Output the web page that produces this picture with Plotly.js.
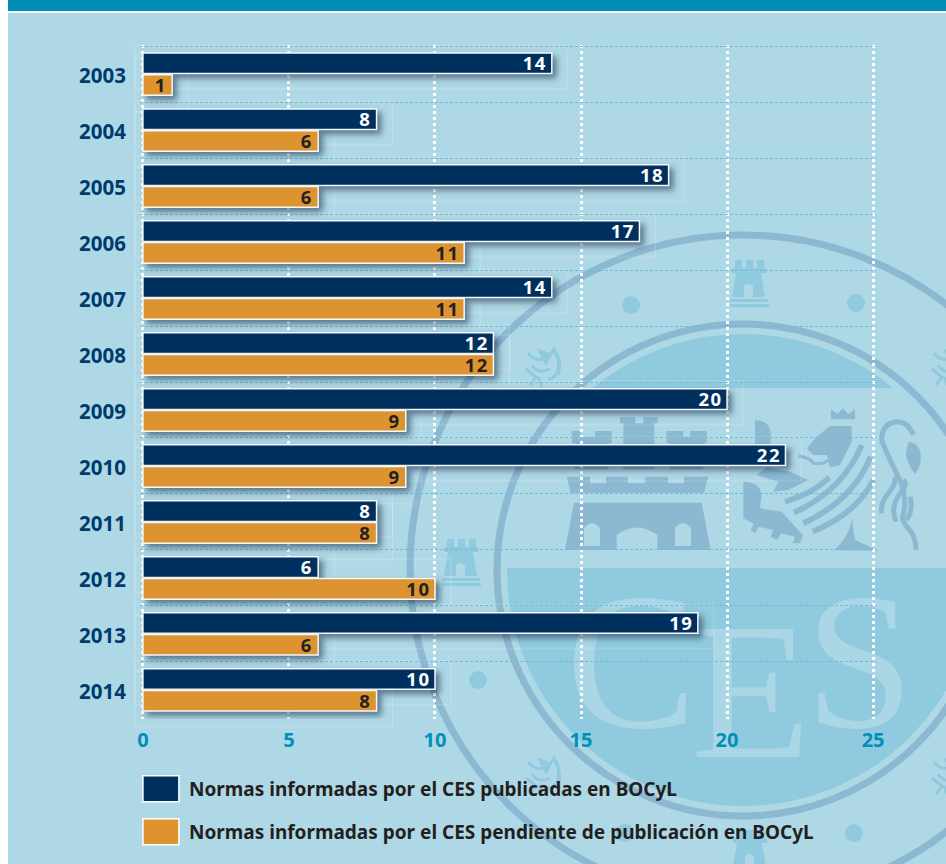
<!DOCTYPE html>
<html lang="es">
<head>
<meta charset="utf-8">
<script src="https://cdn.plot.ly/plotly-3.0.1.min.js"></script>
<style>
html,body{margin:0;padding:0;background:#fff;}
#stage{position:relative;width:946px;height:864px;overflow:hidden;}
#wm,#chart{position:absolute;left:0;top:0;width:946px;height:864px;}
.bars .point path{filter:drop-shadow(4px 4px 3px rgba(0,20,50,.5));}
.bars text{letter-spacing:1.5px;translate:-3px -.5px;}
.ytick text{translate:0 1.5px;}
</style>
</head>
<body>
<div id="stage">
<svg id="wm" width="946" height="864" viewBox="0 0 946 864" xmlns="http://www.w3.org/2000/svg">
  <defs>
    <clipPath id="inner"><circle cx="743" cy="570" r="236"/></clipPath>
    <g id="tinyCastle" fill="#90CADF">
      <rect x="5" y="0" width="7" height="8"/><rect x="16" y="0" width="7" height="8"/><rect x="27" y="0" width="7" height="8"/>
      <rect x="2" y="8" width="34" height="5"/>
      <path d="M6 13H31L35 37H2Z M14 37H23V26Q18.500 22 14 26Z" fill-rule="evenodd"/>
      <rect x="0" y="39" width="38" height="3"/><rect x="0" y="44" width="39" height="3"/>
    </g>
    <g id="tinyLion" fill="none" stroke="#90CADF" stroke-width="3">
      <path d="M6 8Q12 16 20 14T32 4Q38 14 36 24T26 34"/>
      <path d="M10 20Q16 30 28 24M4 24L14 32L8 40M16 32L20 42M34 8Q40 18 36 30"/>
      <path d="M18 6L28 10L24 18Z" fill="#90CADF"/>
    </g>
  </defs>
  <rect x="8" y="0" width="938" height="864" fill="#AFD8E6"/>
  <rect x="8" y="0" width="938" height="11" fill="#008EB5"/>
  <rect x="8" y="11" width="938" height="2" fill="#fff"/>

  <circle cx="743" cy="568" r="333" fill="none" stroke="#8CB8D2" stroke-width="7"/>
  <circle cx="743" cy="570" r="246" fill="none" stroke="#8CB8D2" stroke-width="7"/>
  <g clip-path="url(#inner)" fill="#90CADF">
    <rect x="480" y="320" width="466" height="68"/>
    <rect x="480" y="568" width="466" height="260"/>
  </g>
  <g fill="#90CADF">
    <circle cx="631" cy="305" r="9"/><circle cx="856" cy="303" r="9"/>
    <circle cx="478" cy="680" r="9"/><circle cx="854" cy="833" r="9"/><circle cx="625" cy="833" r="9"/>
  </g>
  <use href="#tinyCastle" x="730" y="260"/>
  <use href="#tinyCastle" x="442" y="539"/>
  <use href="#tinyCastle" x="731" y="830"/>
  <use href="#tinyLion" x="522" y="345"/>
  <use href="#tinyLion" x="928" y="345"/>
  <use href="#tinyLion" x="522" y="754"/>
  <use href="#tinyLion" x="928" y="754"/>

  <!-- shield drawn in crop coordinates -->
  <g transform="translate(480 380) scale(.33333)" fill="#8CB8D2">
    <path d="M260 290H330V310H378V290H443V310H495V290H565V310H612V290H685L672 338H272Z"/>
    <path d="M282 368H665L692 510H532V465Q471 420 410 465V510H255Z M312 498H360V445Q336 415 312 445Z M585 498H633V445Q609 415 585 445Z" fill-rule="evenodd"/>
    <path d="M276 153H302V170H345V153H395V190H385V268H285V190H276Z"/>
    <path d="M420 112H466V130H490V112H533V130H523V268H430V130H420Z"/>
    <path d="M560 153H610V170H630V153H680V190H670V268H570V190H560Z"/>
    <path d="M1053 118V88L1072 102L1088 85L1105 102L1125 88V118Z"/>
    <path d="M1050 138H1115V185L1080 255L1050 262L1040 225L1000 225L980 205L1010 170Z"/>
    <path d="M825 120Q870 122 872 160V195H825Z"/>
    <path d="M790 305Q840 305 845 345L840 385L905 395L968 465L960 490H938L945 470L905 460L890 480L872 470L880 450L835 440L825 460L812 450L822 432L790 415Z"/>
    <path d="M1062 510Q1110 470 1115 415L1125 480L1195 512Z"/>
    <path d="M830 285L860 262L930 275L985 300L925 330L880 335L895 305Z"/>
    <path d="M1285 185Q1320 190 1322 225T1305 282Q1280 250 1278 220Z"/>
    <path d="M955 228Q990 232 1000 250Q1030 255 1045 240" fill="none" stroke="#8CB8D2" stroke-width="9"/>
    <g fill="none" stroke="#8CB8D2" stroke-width="17">
      <path d="M915 365Q1000 340 1048 292"/>
      <path d="M942 398Q1090 330 1145 195"/>
      <path d="M970 430Q1120 360 1172 230"/>
      <path d="M998 455Q1130 400 1180 300"/>
      <path d="M1308 510Q1308 470 1285 445T1270 400Q1285 350 1250 280T1205 180Q1205 130 1250 125Q1285 125 1300 165" stroke-width="15"/>
      <path d="M1205 400Q1200 370 1225 340T1245 290" stroke-width="15"/>
      <path d="M1248 425Q1230 380 1258 345T1270 300" stroke-width="15"/>
      <path d="M1290 350Q1300 390 1280 420" stroke-width="15"/>
    </g>
  </g>

  <g font-family="'Liberation Serif',serif" font-size="196" fill="#AAD6E6">
    <text x="566" y="727">C</text>
    <text x="691" y="757">E</text>
    <text x="805" y="727">S</text>
  </g>
</svg>
<div id="chart"></div>
</div>
<script>
var years = ['2003','2004','2005','2006','2007','2008','2009','2010','2011','2012','2013','2014'];
var publicadas = [14,8,18,17,14,12,20,22,8,6,19,10];
var pendientes = [1,6,6,11,11,12,9,9,8,10,6,8];
var nombrePublicadas = 'Normas informadas por el CES publicadas en BOCyL';
var nombrePendientes = 'Normas informadas por el CES pendiente de publicación en BOCyL';
var xTicks = [0,5,10,15,20,25];

var azul = '#00315E', naranja = '#DD9430';
var FONT = "'Noto Sans','Open Sans',sans-serif";
var L = 140.08, T = 44.88, W = 736.3, H = 674.24, rowH = 56, top0 = 46, unit = 29.22;
function px(x){ return (x-L)/W; }
function py(y){ return 1-(y-T)/H; }

function frame(i, v, top, bottom) {
  var r = top0 + i*rowH;
  return {type:'rect', xref:'paper', yref:'paper', layer:'below',
    x0:px(135), x1:px(143+v*unit+16), y0:py(r+bottom), y1:py(r+top),
    line:{color:'rgba(255,255,255,.2)', width:1}, fillcolor:'rgba(0,0,0,0)'};
}
var shapes = [];
years.forEach(function(y,i){
  shapes.push(frame(i, publicadas[i], -1, 43));
  shapes.push(frame(i, pendientes[i], 9, 66));
});

function swatch(y0,y1,color){
  return {type:'rect', xref:'paper', yref:'paper', layer:'above',
    x0:px(143), x1:px(179), y0:py(y0), y1:py(y1),
    fillcolor:color, line:{color:'#fff', width:1.5}};
}
shapes.push(swatch(776,802,azul));
shapes.push(swatch(819,845,naranja));

function legendText(y,text){
  return {xref:'paper', yref:'paper', x:px(187), y:py(y), xanchor:'left', yanchor:'middle',
    showarrow:false, text:'<b>'+text+'</b>', font:{family:FONT, size:19, color:'#231F20'}};
}

function serie(name, values, color, txt){
  return {type:'bar', orientation:'h', name:name, y:years, x:values,
    text:values.map(String), textposition:'inside', insidetextanchor:'end',
    constraintext:'none', textangle:0, cliponaxis:false,
    textfont:{family:FONT, size:18.5, color:txt, weight:700},
    marker:{color:color, line:{color:'#F4F8FA', width:1.5}}, hoverinfo:'x+name'};
}

var data = [serie(nombrePublicadas, publicadas, azul, '#fff'), serie(nombrePendientes, pendientes, naranja, '#231F20')];

var layout = {
  width:946, height:864,
  margin:{l:L, r:946-L-W, t:T, b:864-T-H, pad:0},
  paper_bgcolor:'rgba(0,0,0,0)', plot_bgcolor:'rgba(0,0,0,0)',
  barmode:'group', bargap:0.223, bargroupgap:0.05, showlegend:false,
  xaxis:{range:[-0.1,25.1], tickmode:'array', tickvals:xTicks, ticktext:xTicks.map(String),
    showgrid:true, gridcolor:'#fff', gridwidth:2.5, griddash:'3px,3px', zeroline:false, showline:false,
    ticks:'', ticklabelstandoff:7, tickfont:{family:FONT, size:20, weight:700, color:'#0091B8'}},
  yaxis:{type:'category', categoryorder:'array', categoryarray:years, range:[11.52,-0.52], tickson:'boundaries',
    showgrid:true, gridcolor:'#6BBDD6', gridwidth:1, griddash:'3px,2px', zeroline:false, showline:false,
    ticks:'', ticklabelstandoff:13, tickfont:{family:FONT, size:20.5, weight:700, color:'#003B6B'}},
  shapes:shapes,
  annotations:[legendText(789.5,nombrePublicadas), legendText(832,nombrePendientes)]
};
Plotly.newPlot('chart', data, layout, {displayModeBar:false, responsive:false});
</script>
</body>
</html>
